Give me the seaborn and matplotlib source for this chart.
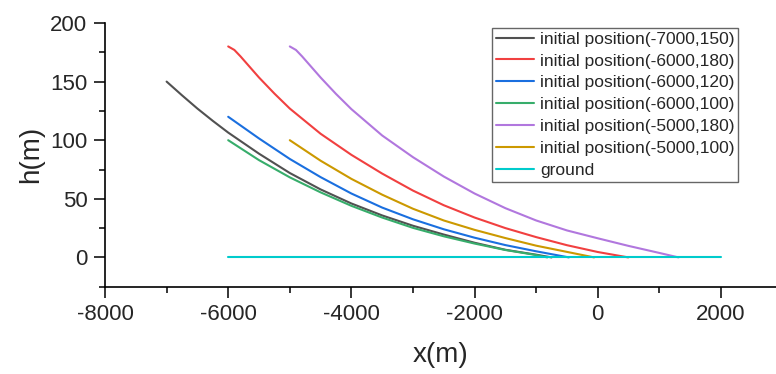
import matplotlib
matplotlib.use("Agg")
import matplotlib.pyplot as plt
from matplotlib.ticker import MultipleLocator
import numpy as np
import pandas as pd
import seaborn as sns

# ---- data ----
labels = [
    "initial position(-7000,150)",
    "initial position(-6000,180)",
    "initial position(-6000,120)",
    "initial position(-6000,100)",
    "initial position(-5000,180)",
    "initial position(-5000,100)",
    "ground",
]
colors = ["#515151", "#F14040", "#1A6FDF", "#37AD6B", "#B177DE", "#CC9900", "#00CBCC"]

x_7000_150 = [-7000, -6750, -6500, -6250, -6000, -5500, -5000, -4500, -4000, -3500, -3000, -2500, -2000, -1500, -1000, -750]
h_7000_150 = [150, 138.3, 127, 116.5, 106.5, 88.5, 72, 58, 46, 35.8, 27, 19.5, 12.5, 6.5, 2.3, 0]

x_6000_180 = [-6000, -5900, -5800, -5650, -5500, -5250, -5000, -4500, -4000, -3500, -3000, -2500, -2000, -1500, -1000, -500, 0, 495]
h_6000_180 = [180, 177, 171.5, 162.5, 153.5, 139.8, 127, 105.5, 87.5, 71.5, 57, 44.5, 34, 25, 17.3, 10.4, 4.6, 0]

x_6000_120 = [-6000, -5500, -5000, -4500, -4000, -3500, -3000, -2500, -2000, -1500, -1000, -470]
h_6000_120 = [120, 101.5, 84, 68.5, 54.5, 42.5, 32.5, 24, 16.8, 10.5, 5.2, 0]

x_6000_100 = [-6000, -5500, -5000, -4500, -4000, -3500, -3000, -2500, -2000, -1500, -1000, -820]
h_6000_100 = [100, 83, 68.3, 55.5, 44, 34, 25.2, 18, 11.8, 6.3, 2.0, 0]

x_5000_180 = [-5000, -4900, -4800, -4650, -4500, -4250, -4000, -3500, -3000, -2500, -2000, -1500, -1000, -500, 0, 500, 1000, 1310]
h_5000_180 = [180, 177, 171.5, 162.5, 153.5, 139.5, 126.5, 104, 85.5, 69, 54.5, 42, 31.5, 23, 16.3, 9.8, 3.8, 0]

x_5000_100 = [-5000, -4500, -4000, -3500, -3000, -2500, -2000, -1500, -1000, -500, -60]
h_5000_100 = [100, 82.5, 67, 53.5, 41.5, 31.5, 23.5, 16.5, 10, 4.7, 0]

x_ground = [-6000, 2000]
h_ground = [0, 0]

series_x = [x_7000_150, x_6000_180, x_6000_120, x_6000_100, x_5000_180, x_5000_100, x_ground]
series_h = [h_7000_150, h_6000_180, h_6000_120, h_6000_100, h_5000_180, h_5000_100, h_ground]

frames = []
for lab, xs, hs in zip(labels, series_x, series_h):
    frames.append(pd.DataFrame({"x": xs, "h": hs, "series": lab}))
df = pd.concat(frames, ignore_index=True)

# ---- plotting ----
sns.set_theme(style="ticks")
plt.rcParams["font.family"] = ["Liberation Sans", "DejaVu Sans"]
plt.rcParams["axes.unicode_minus"] = False

fig = plt.figure(figsize=(7.76, 3.74), dpi=100)
ax = fig.add_axes([105 / 776, 1 - 286.7 / 374, (776 - 105) / 776, (286.7 - 23) / 374])

sns.lineplot(data=df, x="x", y="h", hue="series", hue_order=labels,
             palette=dict(zip(labels, colors)), sort=False, estimator=None,
             linewidth=1.5, ax=ax)
for ln in ax.get_lines():
    ln.set_solid_joinstyle("round")

ax.set_xlim(-8000, 2893)
ax.set_ylim(-25, 200)
ax.xaxis.set_major_locator(MultipleLocator(2000))
ax.xaxis.set_minor_locator(MultipleLocator(1000))
ax.yaxis.set_major_locator(MultipleLocator(50))
ax.yaxis.set_minor_locator(MultipleLocator(25))

for s in ["top", "right"]:
    ax.spines[s].set_visible(False)
for s in ["left", "bottom"]:
    ax.spines[s].set_linewidth(1.2)
    ax.spines[s].set_color("black")

ax.tick_params(which="major", direction="out", length=7.7, width=1.1, color="black",
               labelsize=16, pad=5)
ax.tick_params(which="minor", direction="out", length=4.1, width=1.1, color="black")

ax.set_xlabel("x(m)", fontsize=20, labelpad=12)
ax.set_ylabel("h(m)", fontsize=20, labelpad=4)

leg = ax.legend(loc="upper right", bbox_to_anchor=(0.943, 0.981), borderaxespad=0,
                fontsize=12.5, frameon=True, fancybox=False, edgecolor="#666666",
                framealpha=1, handlelength=2.2, labelspacing=0.39, handletextpad=0.35,
                borderpad=0.2)
leg.get_frame().set_linewidth(1.0)

fig.savefig("out.png", dpi=100)
